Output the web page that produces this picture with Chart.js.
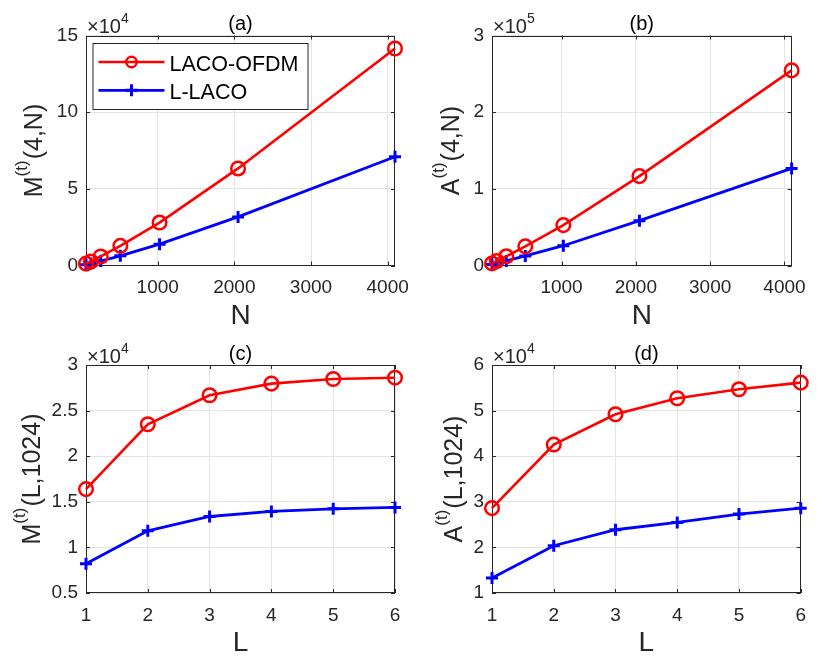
<!DOCTYPE html>
<html>
<head>
<meta charset="utf-8">
<script src="https://cdn.jsdelivr.net/npm/chart.js@4/dist/chart.umd.min.js"></script>
<style>
  html, body { margin: 0; padding: 0; background: #fff; }
  #wrap { position: relative; width: 817px; height: 656px; }
  #wrap canvas { position: absolute; left: 0; top: 0; }
</style>
</head>
<body>
<div id="wrap">
  <canvas id="pa" width="817" height="656"></canvas>
  <canvas id="pb" width="817" height="656"></canvas>
  <canvas id="pc" width="817" height="656"></canvas>
  <canvas id="pd" width="817" height="656"></canvas>
</div>
<script>
// FFT size N (top row) and number of layers L (bottom row)
const nValues = [64, 128, 256, 512, 1024, 2048, 4096];
const lValues = [1, 2, 3, 4, 5, 6];

// real multiplications / additions vs N, L = 4
const multLacoN = [1200, 2600, 5900, 12800, 28000, 63300, 141500];
const multLlacoN = [550, 1250, 2900, 6300, 13900, 31700, 70900];
const addLacoN = [2700, 5800, 12000, 25000, 52700, 116600, 254500];
const addLlacoN = [1300, 2800, 6000, 12500, 25800, 58500, 126600];

// real multiplications / additions vs L, N = 1024
const multLacoL = [16390, 23500, 26680, 27960, 28470, 28610];
const multLlacoL = [8210, 11820, 13390, 13940, 14230, 14380];
const addLacoL = [28610, 42550, 49200, 52700, 54670, 56130];
const addLlacoL = [13280, 20360, 23870, 25470, 27300, 28610];

const seriesNames = ["LACO-OFDM", "L-LACO"];

// tick positions
const nTicks = [1000, 2000, 3000, 4000];
const lTicks = [1, 2, 3, 4, 5, 6];
const multNTicks = [0, 50000, 100000, 150000];
const addNTicks = [0, 100000, 200000, 300000];
const multLTicks = [5000, 10000, 15000, 20000, 25000, 30000];
const addLTicks = [10000, 20000, 30000, 40000, 50000, 60000];

const FONT = "'Liberation Sans', Arial, Helvetica, sans-serif";
const AXIS = "#262626";
const GRID = "#e4e4e4";
const RED = "#ff0000";
const BLUE = "#0000ff";
const W = 817, H = 656;

// titles, axis labels, box, inner ticks and the legend
const decor = {
  id: "decor",
  beforeDatasetsDraw(chart, args, o) {
    const { ctx, chartArea: a, scales } = chart;
    ctx.save();
    ctx.strokeStyle = AXIS;
    ctx.lineWidth = 1;
    ctx.beginPath();
    scales.x.ticks.forEach((t) => {
      const px = Math.round(scales.x.getPixelForValue(t.value)) + 0.5;
      ctx.moveTo(px, a.bottom); ctx.lineTo(px, a.bottom - 4);
      ctx.moveTo(px, a.top); ctx.lineTo(px, a.top + 4);
    });
    scales.y.ticks.forEach((t) => {
      const py = Math.round(scales.y.getPixelForValue(t.value)) + 0.5;
      ctx.moveTo(a.left, py); ctx.lineTo(a.left + 4, py);
      ctx.moveTo(a.right, py); ctx.lineTo(a.right - 4, py);
    });
    ctx.stroke();
    ctx.strokeRect(Math.round(a.left) + 0.5, Math.round(a.top) + 0.5,
      Math.round(a.width) - 1, Math.round(a.height) - 1);
    ctx.restore();
  },
  afterDraw(chart, args, o) {
    const { ctx, chartArea: a } = chart;
    const cx = (a.left + a.right) / 2;
    const cy = (a.top + a.bottom) / 2;
    ctx.save();
    ctx.textBaseline = "alphabetic";

    // panel title
    ctx.fillStyle = "#000";
    ctx.font = "20px " + FONT;
    ctx.textAlign = "center";
    ctx.fillText(o.title, cx, a.top - 5.5);

    // x label
    ctx.fillStyle = AXIS;
    ctx.font = "28px " + FONT;
    ctx.fillText(o.xLabel, cx, a.bottom + 58);

    // exponent above the y axis
    ctx.textAlign = "left";
    ctx.font = "20px " + FONT;
    ctx.fillText("\u00d710", a.left + 1, a.top - 2.5);
    const ew = ctx.measureText("\u00d710").width;
    ctx.font = "14px " + FONT;
    ctx.fillText(o.expo, a.left + 1 + ew, a.top - 12.5);

    // rotated y label with superscript
    ctx.translate(o.yBase, cy);
    ctx.rotate(-Math.PI / 2);
    ctx.font = "25px " + FONT;
    const w1 = ctx.measureText(o.yMain).width;
    const w3 = ctx.measureText(o.yRest).width;
    ctx.font = "17px " + FONT;
    const w2 = ctx.measureText("(t)").width + 1;
    let x0 = -(w1 + w2 + w3) / 2;
    ctx.font = "25px " + FONT;
    ctx.fillText(o.yMain, x0, 0);
    ctx.font = "17px " + FONT;
    ctx.fillText("(t)", x0 + w1, -15);
    ctx.font = "25px " + FONT;
    ctx.fillText(o.yRest, x0 + w1 + w2, 0);
    ctx.setTransform(1, 0, 0, 1, 0, 0);

    if (o.legend) {
      const lx = a.left + 6.5, ly = a.top + 7.5;
      ctx.fillStyle = "#fff";
      ctx.fillRect(lx, ly, 215, 66);
      ctx.strokeStyle = AXIS;
      ctx.lineWidth = 1;
      ctx.strokeRect(lx + 0.5, ly + 0.5, 215, 66);
      chart.data.datasets.forEach((ds, i) => {
        const ry = ly + 19 + i * 28.3;
        ctx.strokeStyle = ds.borderColor;
        ctx.lineWidth = ds.borderWidth;
        ctx.beginPath();
        ctx.moveTo(lx + 6, ry); ctx.lineTo(lx + 72, ry);
        ctx.stroke();
        const mx = lx + 39;
        ctx.lineWidth = ds.pointBorderWidth;
        ctx.beginPath();
        if (ds.pointStyle === "circle") {
          ctx.arc(mx, ry, 5.2, 0, Math.PI * 2);
        } else {
          ctx.moveTo(mx - 6, ry); ctx.lineTo(mx + 6, ry);
          ctx.moveTo(mx, ry - 6); ctx.lineTo(mx, ry + 6);
        }
        ctx.stroke();
        ctx.fillStyle = "#000";
        ctx.font = "21.5px " + FONT;
        ctx.fillText(ds.label, lx + 77, ry + 8.5);
      });
    }
    ctx.restore();
  }
};

function series(xs, ys, i) {
  const red = i === 0;
  return {
    label: seriesNames[i],
    data: xs.map((x, k) => ({ x: x, y: ys[k] })),
    borderColor: red ? RED : BLUE,
    borderWidth: red ? 2.6 : 2.8,
    pointStyle: red ? "circle" : "cross",
    pointRadius: red ? 6.8 : 6,
    pointBorderWidth: red ? 2.5 : 3,
    pointBorderColor: red ? RED : BLUE,
    pointBackgroundColor: "rgba(0,0,0,0)",
    tension: 0,
    fill: false,
    clip: false
  };
}

function panel(id, area, xs, xTicks, xMin, xMax, yTicks, yMin, yMax, factor, datasets, text) {
  const yW = 60, xH = 40;
  new Chart(document.getElementById(id), {
    type: "line",
    data: { datasets: datasets },
    options: {
      responsive: false,
      animation: false,
      devicePixelRatio: 1,
      events: [],
      layout: {
        padding: {
          left: area.left - yW,
          right: W - area.right,
          top: area.top,
          bottom: H - area.bottom - xH
        }
      },
      scales: {
        x: {
          type: "linear",
          min: xMin,
          max: xMax,
          afterBuildTicks: (s) => { s.ticks = xTicks.map((v) => ({ value: v })); },
          afterFit: (s) => { s.height = xH; },
          grid: { color: GRID, drawTicks: false },
          border: { display: false },
          ticks: {
            autoSkip: false, maxRotation: 0, minRotation: 0, padding: 11,
            color: AXIS, font: { family: FONT, size: 19 },
            callback: (v) => String(v)
          }
        },
        y: {
          type: "linear",
          min: yMin,
          max: yMax,
          afterBuildTicks: (s) => { s.ticks = yTicks.map((v) => ({ value: v })); },
          afterFit: (s) => { s.width = yW; },
          grid: { color: GRID, drawTicks: false },
          border: { display: false },
          ticks: {
            autoSkip: false, padding: 8,
            color: AXIS, font: { family: FONT, size: 19 },
            callback: (v) => String(Math.round(v / factor * 100) / 100)
          }
        }
      },
      plugins: {
        legend: { display: false },
        tooltip: { enabled: false },
        decor: text
      }
    },
    plugins: [decor]
  });
}

panel("pa", { left: 86, right: 395, top: 35.5, bottom: 265.5 },
  nValues, nTicks, 64, 4096, multNTicks, 0, 150000, 1e4,
  [series(nValues, multLacoN, 0), series(nValues, multLlacoN, 1)],
  { title: "(a)", xLabel: "N", yMain: "M", yRest: "(4,N)", yBase: 42, expo: "4", legend: true });

panel("pb", { left: 492, right: 801, top: 35.5, bottom: 265.5 },
  nValues, nTicks, 64, 4096, addNTicks, 0, 300000, 1e5,
  [series(nValues, addLacoN, 0), series(nValues, addLlacoN, 1)],
  { title: "(b)", xLabel: "N", yMain: "A", yRest: "(4,N)", yBase: 459, expo: "5", legend: false });

panel("pc", { left: 86, right: 395, top: 365, bottom: 593 },
  lValues, lTicks, 1, 6, multLTicks, 5000, 30000, 1e4,
  [series(lValues, multLacoL, 0), series(lValues, multLlacoL, 1)],
  { title: "(c)", xLabel: "L", yMain: "M", yRest: "(L,1024)", yBase: 40, expo: "4", legend: false });

panel("pd", { left: 492, right: 801, top: 365, bottom: 593 },
  lValues, lTicks, 1, 6, addLTicks, 10000, 60000, 1e4,
  [series(lValues, addLacoL, 0), series(lValues, addLlacoL, 1)],
  { title: "(d)", xLabel: "L", yMain: "A", yRest: "(L,1024)", yBase: 462, expo: "4", legend: false });
</script>
</body>
</html>
